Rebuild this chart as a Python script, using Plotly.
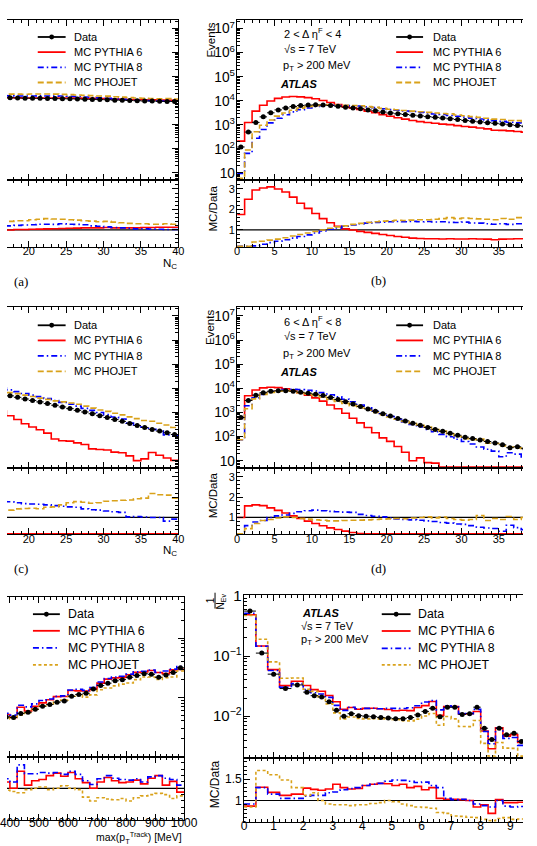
import numpy as np
import plotly.graph_objects as go

W, H = 537, 846

# ===================== DATA =====================
# bin edges
nc_edges_left = list(range(15, 41))          # panels (a), (c)
nc_edges_full = list(range(0, 41))           # panels (b), (d)
pt_edges = list(range(375, 1001, 25))        # panel (e)  [MeV]
f_edges = [0.0, 0.4, 0.8, 1.2, 1.6, 2.0, 2.25, 2.5, 2.75, 3.0, 3.25, 3.5, 3.75, 4.0,
           4.25, 4.5, 4.75, 5.0, 5.25, 5.5, 5.75, 6.0, 6.25, 6.5, 6.75, 7.0, 7.25, 7.5,
           7.75, 8.0, 8.25, 8.5, 8.75, 9.0, 9.25, 9.5, 9.75, 10.0]   # panel (f)

# ---- (a) ----
a_data = [14500, 14000, 13300, 13000, 12800, 12700, 12600, 12400, 12300, 12100, 12000, 11800,
          11500, 11400, 11200, 11000, 10600, 10500, 10300, 10000, 9800, 9700, 9500, 9400, 9300]
a_r_py6 = [1.0, 1.0, 1.0, 1.02, 1.02, 1.03, 1.04, 1.05, 1.06, 1.07, 1.08, 1.09, 1.1, 1.1, 1.1,
           1.12, 1.1, 1.1, 1.1, 1.1, 1.12, 1.12, 1.13, 1.13, 1.13]
a_r_py8 = [1.2, 1.2, 1.2, 1.22, 1.24, 1.25, 1.28, 1.28, 1.27, 1.3, 1.28, 1.27, 1.25, 1.2, 1.18,
           1.15, 1.12, 1.1, 1.08, 1.05, 1.06, 1.04, 1.03, 1.02, 1.02]
a_r_pho = [1.4, 1.42, 1.42, 1.45, 1.45, 1.5, 1.52, 1.55, 1.53, 1.52, 1.5, 1.48, 1.45, 1.43, 1.4,
           1.42, 1.38, 1.35, 1.32, 1.3, 1.3, 1.28, 1.28, 1.3, 1.28]

# ---- (b) 2 < d eta_F < 4 ----
b_data = [120, 500, 1260, 2140, 3160, 4170, 5010, 5750, 6310, 6610,
          6760, 6610, 6310, 5890, 5370, 5010, 4680, 4170, 3800, 3390,
          3090, 2880, 2690, 2510, 2340, 2190, 2040, 1910, 1780, 1660,
          1510, 1410, 1320, 1230, 1150, 1070, 1000, 930, 870, 810]
b_r_py6 = [1.75, 2.5, 2.95, 3.05, 3.1, 3.0, 2.85, 2.6, 2.3, 2.05,
           1.8, 1.55, 1.35, 1.18, 1.05, 1.0, 0.93, 0.88, 0.83, 0.78,
           0.73, 0.68, 0.64, 0.6, 0.58, 0.57, 0.57, 0.56, 0.57, 0.56,
           0.56, 0.57, 0.56, 0.55, 0.52, 0.55, 0.56, 0.57, 0.57, 0.57]
b_r_py8 = [0.08, 0.13, 0.22, 0.3, 0.38, 0.45, 0.52, 0.6, 0.68, 0.76,
           0.85, 0.95, 1.03, 1.1, 1.18, 1.24, 1.3, 1.33, 1.37, 1.38,
           1.4, 1.41, 1.4, 1.42, 1.4, 1.41, 1.39, 1.4, 1.37, 1.36,
           1.38, 1.34, 1.33, 1.3, 1.28, 1.3, 1.27, 1.3, 1.25, 1.28]
b_r_pho = [0.05, 0.18, 0.41, 0.45, 0.5, 0.55, 0.62, 0.7, 0.78, 0.85,
           0.92, 1.0, 1.08, 1.15, 1.2, 1.27, 1.32, 1.37, 1.4, 1.43,
           1.44, 1.47, 1.46, 1.48, 1.5, 1.5, 1.52, 1.55, 1.6, 1.55,
           1.58, 1.56, 1.54, 1.52, 1.5, 1.56, 1.52, 1.6, 1.55, 1.58]

# ---- (c) ----
c_data = [6600, 5750, 4900, 4270, 3630, 3160, 2750, 2340, 2000, 1700, 1450, 1230,
          1050, 890, 740, 620, 510, 430, 355, 290, 240, 200, 170, 145, 123]
c_r_py6 = [0.3, 0.2, 0.15, 0.12, 0.095, 0.08, 0.07, 0.06, 0.04, 0.04, 0.045, 0.045,
           0.045, 0.035, 0.04, 0.045, 0.045, 0.05, 0.045, 0.035, 0.05, 0.11, 0.1, 0.09, 0.085]
c_r_py8 = [1.8, 1.78, 1.77, 1.72, 1.68, 1.66, 1.65, 1.62, 1.58, 1.55, 1.52, 1.5,
           1.42, 1.38, 1.36, 1.32, 1.28, 1.25, 1.03, 1.05, 1.02, 1.0, 1.0, 0.82, 0.92]
c_r_pho = [1.3, 1.33, 1.36, 1.42, 1.44, 1.45, 1.43, 1.5, 1.52, 1.62, 1.72, 1.78,
           1.75, 1.7, 1.72, 1.8, 1.82, 1.85, 1.86, 1.92, 1.95, 2.18, 2.12, 2.1, 1.95]

# ---- (d) 6 < d eta_F < 8 ----
d_data = [620, 3160, 5250, 6610, 7590, 7940, 7940, 7590, 6920, 6310,
          5750, 5010, 4170, 3470, 2820, 2240, 1780, 1410, 1120, 890,
          710, 560, 450, 360, 295, 240, 200, 166, 138, 115,
          95, 83, 72, 63, 55, 46, 35, 38, 32, 28]
d_r_py6 = [1.0, 1.57, 1.62, 1.58, 1.47, 1.35, 1.22, 1.08, 0.95, 0.82,
           0.7, 0.59, 0.49, 0.41, 0.33, 0.26, 0.21, 0.17, 0.13, 0.1,
           0.09, 0.07, 0.05, 0.028, 0.045, 0.035, 0.04, 0, 0, 0,
           0, 0, 0, 0, 0, 0, 0, 0, 0, 0]
d_r_py8 = [0.12, 0.6, 0.78, 0.85, 1.0, 1.08, 1.12, 1.2, 1.28, 1.33,
           1.36, 1.33, 1.3, 1.28, 1.26, 1.25, 1.15, 1.1, 1.06, 1.03,
           0.97, 0.93, 0.9, 0.88, 0.86, 0.83, 0.8, 0.75, 0.72, 0.68,
           0.66, 0.6, 0.52, 0.48, 0.46, 0.32, 0.62, 0.5, 0.4, 0.45]
d_r_pho = [0.12, 0.45, 0.7, 0.85, 0.9, 0.97, 1.03, 1.0, 0.95, 0.92,
           0.88, 0.86, 0.83, 0.83, 0.85, 0.86, 0.87, 0.88, 0.9, 0.92,
           0.93, 0.95, 0.94, 0.97, 1.0, 1.03, 0.98, 1.02, 0.95, 0.9,
           0.87, 0.9, 1.1, 0.85, 0.95, 0.9, 1.05, 0.9, 1.0, 0.85]

# ---- (e) max(pT track) ----
e_data = [0.00468, 0.00457, 0.00537, 0.00562, 0.00631, 0.00708, 0.00759, 0.00832, 0.00871,
          0.01047, 0.01122, 0.01175, 0.0138, 0.01585, 0.01738, 0.01905, 0.01995, 0.02188,
          0.02344, 0.02512, 0.02455, 0.02188, 0.02399, 0.0263, 0.03162]
e_r_py6 = [1.1, 1.0, 1.27, 1.05, 1.12, 1.14, 1.2, 1.24, 1.19, 1.25, 1.15, 1.09, 1.0,
           1.1, 1.17, 1.12, 1.09, 1.1, 1.13, 1.07, 1.16, 1.2, 1.05, 1.11, 0.94]
e_r_py8 = [1.15, 1.1, 1.37, 1.23, 1.23, 1.25, 1.24, 1.25, 1.22, 1.27, 1.22, 1.12, 1.06,
           1.15, 1.2, 1.16, 1.14, 1.13, 1.15, 1.1, 1.18, 1.2, 1.16, 1.14, 1.05]
e_r_pho = [0.97, 0.95, 0.93, 0.98, 1.0, 1.02, 0.98, 1.0, 1.04, 1.0, 0.98, 0.86, 0.8,
           0.85, 0.83, 0.82, 0.84, 0.8, 0.85, 0.88, 0.9, 0.92, 0.9, 0.84, 0.88]

# ---- (f) ----
f_data = [0.56, 0.112, 0.050, 0.0288, 0.0331,
          0.0251, 0.0219, 0.0209, 0.0174, 0.0126, 0.0100, 0.0110, 0.0102,
          0.0100, 0.0098, 0.0095, 0.0093, 0.0091, 0.0091, 0.0095, 0.0105,
          0.0120, 0.0135, 0.0098, 0.0141, 0.0141, 0.0107, 0.0110, 0.0141,
          0.0063, 0.0041, 0.0063, 0.0049, 0.0052, 0.0038, 0.0040, 0.0032]
f_r_py6 = [0.87, 1.31, 1.19, 1.12, 1.15,
           1.29, 1.26, 1.24, 1.27, 1.38, 1.3, 1.27, 1.28,
           1.35, 1.38, 1.4, 1.39, 1.35, 1.38, 1.3, 1.33,
           1.25, 1.3, 1.05, 1.03, 1.03, 1.02, 1.0, 0.85,
           0.9, 0.7, 1.02, 0.95, 0.95, 0.96, 0.95, 0.95]
f_r_py8 = [0.92, 1.3, 1.15, 1.05, 1.05,
           1.1, 1.12, 1.12, 1.18, 1.2, 1.25, 1.28, 1.3,
           1.35, 1.38, 1.4, 1.45, 1.48, 1.47, 1.45, 1.42,
           1.43, 1.35, 1.3, 1.05, 1.02, 1.03, 1.0, 0.92,
           0.88, 0.85, 1.0, 0.87, 0.85, 0.86, 0.9, 0.9]
f_r_pho = [0.85, 1.7, 1.6, 1.48, 1.3,
           1.12, 1.18, 1.0, 0.92, 0.9, 0.9, 0.88, 0.9,
           0.9, 0.93, 0.95, 1.0, 0.97, 0.92, 0.88, 0.85,
           0.84, 0.82, 0.72, 0.7, 0.64, 0.63, 0.61, 0.6,
           0.56, 0.53, 0.58, 0.6, 0.56, 0.57, 0.6, 0.6]

legend_labels = ["Data", "MC PYTHIA 6", "MC PYTHIA 8", "MC PHOJET"]

# ===================== STYLE =====================
RED, BLUE, GOLD = "#ff0000", "#0000ff", "#d9a21b"
DASH_P8 = "6px,3px,1.5px,3px"
DASH_PH = "6px,3px"
DASH_PH_DOT = "3px,2.5px"
FONT = "Liberation Sans, Arial, Helvetica, sans-serif"
SERIF = "Liberation Serif, DejaVu Serif, serif"


def X(p):
    return p / W


def Y(p):
    return 1 - p / H


panels = [
    dict(edges=nc_edges_left, data=a_data, r6=a_r_py6, r8=a_r_py8, rph=a_r_pho,
         x0=0, x1=178.3, main=(12.3, 174.0), ratio=(174.0, 241.5), side="right",
         xrange=[17.08, 40], xdtick=5, xminor=1, ylog=[0.70, 7.35], rrange=[0.17, 3.43],
         rdtick=1, rminor=0.2, rtickvals=None, phdash=DASH_PH, tfs=11, xstand=-6),
    dict(edges=nc_edges_full, data=b_data, r6=b_r_py6, r8=b_r_py8, rph=b_r_pho,
         x0=239.5, x1=537, main=(12.3, 174.0), ratio=(174.0, 241.5), side="left",
         xrange=[0, 38.24], xdtick=5, xminor=1, ylog=[0.70, 7.35], rrange=[0.17, 3.43],
         rdtick=1, rminor=0.2, rtickvals=None, phdash=DASH_PH, tfs=11, xstand=-6),
    dict(edges=nc_edges_left, data=c_data, r6=c_r_py6, r8=c_r_py8, rph=c_r_pho,
         x0=0, x1=178.3, main=(302.7, 465.0), ratio=(465.0, 532.0), side="right",
         xrange=[17.08, 40], xdtick=5, xminor=1, ylog=[0.70, 7.35], rrange=[0.17, 3.43],
         rdtick=1, rminor=0.2, rtickvals=None, phdash=DASH_PH, tfs=11, xstand=-6),
    dict(edges=nc_edges_full, data=d_data, r6=d_r_py6, r8=d_r_py8, rph=d_r_pho,
         x0=239.5, x1=537, main=(302.7, 465.0), ratio=(465.0, 532.0), side="left",
         xrange=[0, 38.24], xdtick=5, xminor=1, ylog=[0.70, 7.35], rrange=[0.17, 3.43],
         rdtick=1, rminor=0.2, rtickvals=None, phdash=DASH_PH, tfs=11, xstand=-6),
    dict(edges=pt_edges, data=e_data, r6=e_r_py6, r8=e_r_py8, rph=e_r_pho,
         x0=0, x1=184.3, main=(595.0, 756.7), ratio=(756.7, 820.7), side="right",
         xrange=[390, 1000], xdtick=100, xminor=20, ylog=[-3.0, -0.3], rrange=[0.5, 1.5],
         rdtick=0.5, rminor=0.1, rtickvals=None, phdash=DASH_PH_DOT, tfs=12, xstand=-8),
    dict(edges=f_edges, data=f_data, r6=f_r_py6, r8=f_r_py8, rph=f_r_pho,
         x0=246.7, x1=537, main=(593.3, 757.7), ratio=(757.7, 822.7), side="left",
         xrange=[0, 9.43], xdtick=1, xminor=0.2, ylog=[-2.69, 0.016], rrange=[0.5, 2.0],
         rdtick=0.5, rminor=0.1, rtickvals=[1, 1.5], phdash=DASH_PH_DOT, tfs=12, xstand=-7),
]


def clip_lin(vals, lo, hi):
    pad = 0.008 * (hi - lo)
    return np.clip(np.asarray(vals, float), lo + pad, hi - pad)


def clip_log(vals, lo, hi):
    v = np.log10(np.maximum(np.asarray(vals, float), 1e-30))
    pad = 0.006 * (hi - lo)
    return 10 ** np.clip(v, lo + pad, hi - pad)


fig = go.Figure()
layout_axes = {}
shapes = []
annotations = []

for k, P in enumerate(panels):
    im, ir = 2 * k + 1, 2 * k + 2
    xm_key = "xaxis" if im == 1 else f"xaxis{im}"
    ym_key = "yaxis" if im == 1 else f"yaxis{im}"
    xm_ref = "x" if im == 1 else f"x{im}"
    ym_ref = "y" if im == 1 else f"y{im}"
    xr_key, yr_key, xr_ref, yr_ref = f"xaxis{ir}", f"yaxis{ir}", f"x{ir}", f"y{ir}"

    tickfont = dict(size=P["tfs"], color="black", family=FONT)
    common_x = dict(domain=[X(P["x0"]), X(P["x1"])], range=P["xrange"], showline=True,
                    linecolor="black", linewidth=1, mirror="allticks", ticks="inside",
                    ticklen=6, tickcolor="black", tickwidth=1, dtick=P["xdtick"], tick0=0,
                    minor=dict(ticks="inside", ticklen=3, dtick=P["xminor"], tick0=0,
                               tickcolor="black", showgrid=False),
                    showgrid=False, zeroline=False)
    layout_axes[xm_key] = dict(common_x, anchor=ym_ref, showticklabels=False)
    layout_axes[xr_key] = dict(common_x, anchor=yr_ref, showticklabels=True, tickfont=tickfont,
                               ticklabelstandoff=P["xstand"], ticklabeloverflow="allow")

    show_lab = P["side"] == "left"
    layout_axes[ym_key] = dict(
        domain=[Y(P["main"][1]), Y(P["main"][0])], type="log", range=P["ylog"],
        anchor=xm_ref, side=P["side"], showline=True, linecolor="black", linewidth=1,
        mirror=False, ticks="inside", ticklen=6, tickcolor="black", dtick=1,
        exponentformat="power", showticklabels=show_lab, tickfont=tickfont,
        ticklabelstandoff=-1,
        minor=dict(ticks="inside", ticklen=3, dtick="D1", tickcolor="black", showgrid=False),
        showgrid=False, zeroline=False)
    yr = dict(domain=[Y(P["ratio"][1]), Y(P["ratio"][0])], range=P["rrange"], anchor=xr_ref,
              side=P["side"], showline=True, linecolor="black", linewidth=1, mirror=False,
              ticks="inside", ticklen=6, tickcolor="black", showticklabels=show_lab,
              tickfont=tickfont, ticklabelstandoff=-1,
              minor=dict(ticks="inside", ticklen=3, dtick=P["rminor"], tick0=0,
                         tickcolor="black", showgrid=False),
              showgrid=False, zeroline=False)
    if P["rtickvals"]:
        yr.update(tickmode="array", tickvals=P["rtickvals"],
                  ticktext=[str(v) for v in P["rtickvals"]])
    else:
        yr.update(dtick=P["rdtick"], tick0=0)
    layout_axes[yr_key] = yr

    edges = np.asarray(P["edges"], float)
    centers = 0.5 * (edges[:-1] + edges[1:])
    halfw = 0.5 * np.diff(edges)
    data = np.asarray(P["data"], float)

    shapes.append(dict(type="line", xref=f"{xr_ref} domain", yref=yr_ref, x0=0, x1=1,
                       y0=1, y1=1, line=dict(color="black", width=1.2), layer="below"))

    for ratio, col, dash, nm in [(P["r6"], RED, "solid", legend_labels[1]),
                                 (P["r8"], BLUE, DASH_P8, legend_labels[2]),
                                 (P["rph"], GOLD, P["phdash"], legend_labels[3])]:
        r = np.asarray(ratio, float)
        mc = clip_log(data * r, *P["ylog"])
        fig.add_trace(go.Scatter(x=edges, y=np.append(mc, mc[-1]), mode="lines", name=nm,
                                 line=dict(color=col, width=1.6, dash=dash, shape="hv"),
                                 xaxis=xm_ref, yaxis=ym_ref, hoverinfo="skip"))
        rr = clip_lin(r, *P["rrange"])
        fig.add_trace(go.Scatter(x=edges, y=np.append(rr, rr[-1]), mode="lines", name=nm,
                                 line=dict(color=col, width=1.6, dash=dash, shape="hv"),
                                 xaxis=xr_ref, yaxis=yr_ref, hoverinfo="skip"))
    fig.add_trace(go.Scatter(x=centers, y=data, mode="markers", name=legend_labels[0],
                             marker=dict(color="black", size=5),
                             error_x=dict(type="data", array=halfw, color="black",
                                          thickness=1, width=0),
                             xaxis=xm_ref, yaxis=ym_ref, hoverinfo="skip"))


def txt(text, x, y, size=11, xanchor="left", yanchor="middle", angle=0, family=FONT):
    return dict(text=text, x=X(x), y=Y(y), xref="paper", yref="paper", xanchor=xanchor,
                yanchor=yanchor, showarrow=False, textangle=angle,
                font=dict(size=size, family=family, color="black"))


def legend(lx0, lx1, tx, ys, phdash, size):
    styles = [("black", "solid"), (RED, "solid"), (BLUE, DASH_P8), (GOLD, phdash)]
    for lab, (col, dash), y in zip(legend_labels, styles, ys):
        shapes.append(dict(type="line", xref="paper", yref="paper", x0=X(lx0), x1=X(lx1),
                           y0=Y(y), y1=Y(y), line=dict(color=col, width=1.8, dash=dash)))
        if lab == "Data":
            cx = 0.5 * (lx0 + lx1)
            shapes.append(dict(type="circle", xref="paper", yref="paper",
                               x0=X(cx - 2.5), x1=X(cx + 2.5), y0=Y(y + 2.5), y1=Y(y - 2.5),
                               fillcolor="black", line=dict(color="black", width=0)))
        annotations.append(txt(lab, tx, y, size=size))


legend(32, 61, 68, [29.3, 44.6, 60.0, 75.3], DASH_PH, 11)
legend(405, 433, 441, [29.3, 44.6, 60.0, 75.3], DASH_PH, 11)
legend(32, 61, 68, [320.7, 336.0, 351.7, 367.3], DASH_PH, 11)
legend(405, 433, 441, [320.7, 336.0, 351.7, 367.3], DASH_PH, 11)
legend(27, 55, 61, [612.7, 629.5, 646.7, 664.0], DASH_PH_DOT, 12.3)
legend(390, 420, 426, [612.7, 629.7, 647.3, 664.0], DASH_PH_DOT, 12.3)

# panel texts
annotations += [
    txt("2 &lt; Δ η<sup>F</sup> &lt; 4", 286, 25.5),
    txt("√s = 7 TeV", 286, 41.7),
    txt("p<sub>T</sub> &gt; 200 MeV", 285, 58.5),
    txt("<b><i>ATLAS</i></b>", 282, 76.7),
    txt("6 &lt; Δ η<sup>F</sup> &lt; 8", 286, 316.7),
    txt("√s = 7 TeV", 286, 332.0),
    txt("p<sub>T</sub> &gt; 200 MeV", 285, 349.5),
    txt("<b><i>ATLAS</i></b>", 282, 368.3),
    txt("<b><i>ATLAS</i></b>", 304.5, 611.0),
    txt("√s = 7 TeV", 304, 625.0),
    txt("p<sub>T</sub> &gt; 200 MeV", 304, 638.5),
    # axis titles
    txt("Events", 212.0, 12.5, size=11.5, xanchor="center", yanchor="top", angle=-90),
    txt("Events", 212.0, 303.0, size=11.5, xanchor="center", yanchor="top", angle=-90),
    txt("MC/Data", 214.5, 202.5, size=11.5, xanchor="center", angle=-90),
    txt("MC/Data", 214.5, 492.5, size=11.5, xanchor="center", angle=-90),
    txt("MC/Data", 216.0, 785.0, size=12, xanchor="center", angle=-90),
    txt("1", 211.5, 598.5, size=10, xanchor="center", angle=-90),
    txt("N<sub>Ev</sub>", 222.5, 600.0, size=10, xanchor="center", angle=-90),
    txt("N<sub>C</sub>", 178.5, 259.0, size=11.5, xanchor="right"),
    txt("N<sub>C</sub>", 178.5, 549.0, size=11.5, xanchor="right"),
    txt("max(p<sub>T</sub><sup>Track</sup>) [MeV]", 184.5, 839.0, size=10.5, xanchor="right"),
    # sub-figure labels
    txt("(a)", 14.5, 276.0, size=13, xanchor="center", family=SERIF),
    txt("(b)", 386.5, 275.5, size=13, xanchor="center", family=SERIF),
    txt("(c)", 14.5, 566.5, size=13, xanchor="center", family=SERIF),
    txt("(d)", 386.5, 566.5, size=13, xanchor="center", family=SERIF),
]
shapes.append(dict(type="line", xref="paper", yref="paper", x0=X(216.5), x1=X(216.5),
                   y0=Y(591.0), y1=Y(607.0), line=dict(color="black", width=1)))

fig.update_layout(width=W, height=H, margin=dict(l=0, r=0, t=0, b=0, pad=0),
                  paper_bgcolor="white", plot_bgcolor="white", showlegend=False,
                  font=dict(family=FONT, color="black", size=11),
                  shapes=shapes, annotations=annotations, **layout_axes)

fig.write_html("out.html")
